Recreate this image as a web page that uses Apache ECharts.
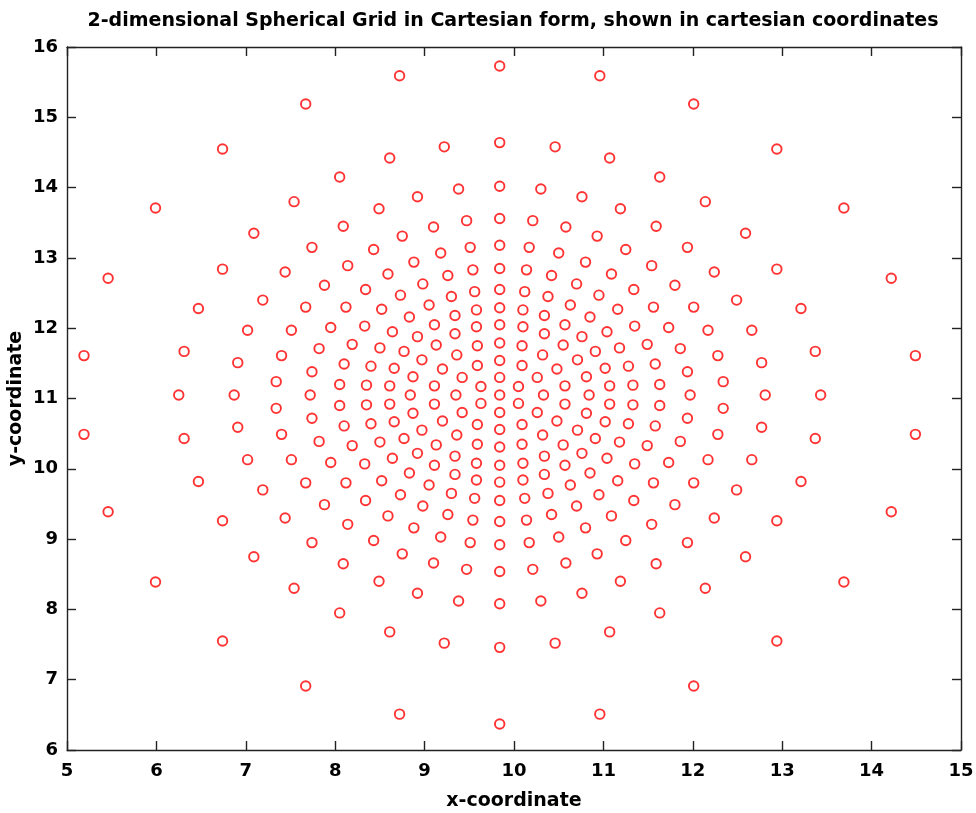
<!DOCTYPE html>
<html>
<head>
<meta charset="utf-8">
<title>2-dimensional Spherical Grid</title>
<script src="https://cdn.jsdelivr.net/npm/echarts@6.0.0/dist/echarts.min.js"></script>
<style>
  html, body { margin: 0; padding: 0; background: #ffffff; }
  #chart { width: 976px; height: 813px; }
</style>
</head>
<body>
<div id="chart"></div>
<script>
// Axis ranges and tick spacing
const xRange = [5, 15];
const yRange = [6, 16];
const tickStep = 1;

// Grid points, one array per ring (x, y), from the pole outward
const center = [[9.84, 11.05]];
const ring1 = [[9.84,11.30],[10.05,11.17],[10.05,10.93],[9.84,10.80],[9.63,10.93],[9.63,11.17]];
const ring2 = [[9.84,11.54],[10.09,11.47],[10.26,11.30],[10.33,11.05],[10.26,10.80],[10.09,10.63],[9.84,10.56],[9.59,10.63],[9.42,10.80],[9.35,11.05],[9.42,11.30],[9.59,11.47]];
const ring3 = [[9.84,11.79],[10.09,11.75],[10.32,11.62],[10.48,11.42],[10.57,11.18],[10.57,10.92],[10.48,10.68],[10.32,10.48],[10.09,10.35],[9.84,10.31],[9.59,10.35],[9.36,10.48],[9.20,10.68],[9.11,10.92],[9.11,11.18],[9.20,11.42],[9.36,11.62],[9.59,11.75]];
const ring4 = [[9.84,12.05],[10.10,12.02],[10.34,11.92],[10.55,11.76],[10.71,11.55],[10.81,11.31],[10.84,11.05],[10.81,10.79],[10.71,10.55],[10.55,10.34],[10.34,10.18],[10.10,10.08],[9.84,10.05],[9.58,10.08],[9.34,10.18],[9.13,10.34],[8.97,10.55],[8.87,10.79],[8.84,11.05],[8.87,11.31],[8.97,11.55],[9.13,11.76],[9.34,11.92],[9.58,12.02]];
const ring5 = [[9.84,12.29],[10.10,12.26],[10.34,12.18],[10.57,12.05],[10.76,11.88],[10.91,11.67],[11.02,11.43],[11.07,11.18],[11.07,10.92],[11.02,10.67],[10.91,10.43],[10.76,10.22],[10.57,10.05],[10.34,9.92],[10.10,9.84],[9.84,9.81],[9.58,9.84],[9.34,9.92],[9.11,10.05],[8.92,10.22],[8.77,10.43],[8.66,10.67],[8.61,10.92],[8.61,11.18],[8.66,11.43],[8.77,11.67],[8.92,11.88],[9.11,12.05],[9.34,12.18],[9.58,12.26]];
const ring6 = [[9.84,12.55],[10.12,12.52],[10.38,12.45],[10.63,12.33],[10.85,12.16],[11.04,11.95],[11.18,11.72],[11.28,11.46],[11.33,11.19],[11.33,10.91],[11.28,10.64],[11.18,10.38],[11.04,10.15],[10.85,9.94],[10.63,9.77],[10.38,9.65],[10.12,9.58],[9.84,9.55],[9.56,9.58],[9.30,9.65],[9.05,9.77],[8.83,9.94],[8.64,10.15],[8.50,10.38],[8.40,10.64],[8.35,10.91],[8.35,11.19],[8.40,11.46],[8.50,11.72],[8.64,11.95],[8.83,12.16],[9.05,12.33],[9.30,12.45],[9.56,12.52]];
const ring7 = [[9.84,12.85],[10.14,12.83],[10.42,12.75],[10.70,12.63],[10.95,12.47],[11.16,12.27],[11.35,12.03],[11.49,11.77],[11.58,11.49],[11.63,11.20],[11.63,10.90],[11.58,10.61],[11.49,10.33],[11.35,10.07],[11.16,9.83],[10.95,9.63],[10.70,9.47],[10.42,9.35],[10.14,9.27],[9.84,9.25],[9.54,9.27],[9.26,9.35],[8.98,9.47],[8.73,9.63],[8.52,9.83],[8.33,10.07],[8.19,10.33],[8.10,10.61],[8.05,10.90],[8.05,11.20],[8.10,11.49],[8.19,11.77],[8.33,12.03],[8.52,12.27],[8.73,12.47],[8.98,12.63],[9.26,12.75],[9.54,12.83]];
const ring8 = [[9.84,13.18],[10.17,13.15],[10.50,13.07],[10.80,12.94],[11.09,12.77],[11.34,12.55],[11.56,12.30],[11.73,12.01],[11.86,11.71],[11.94,11.38],[11.97,11.05],[11.94,10.72],[11.86,10.39],[11.73,10.09],[11.56,9.80],[11.34,9.55],[11.09,9.33],[10.80,9.16],[10.50,9.03],[10.17,8.95],[9.84,8.92],[9.51,8.95],[9.18,9.03],[8.88,9.16],[8.59,9.33],[8.34,9.55],[8.12,9.80],[7.95,10.09],[7.82,10.39],[7.74,10.72],[7.72,11.05],[7.74,11.38],[7.82,11.71],[7.95,12.01],[8.12,12.30],[8.34,12.55],[8.59,12.77],[8.88,12.94],[9.18,13.07],[9.51,13.15]];
const ring9 = [[9.84,13.56],[10.21,13.53],[10.58,13.44],[10.93,13.31],[11.25,13.12],[11.54,12.89],[11.80,12.61],[12.01,12.30],[12.17,11.97],[12.28,11.61],[12.34,11.24],[12.34,10.86],[12.28,10.49],[12.17,10.13],[12.01,9.80],[11.80,9.49],[11.54,9.21],[11.25,8.98],[10.93,8.79],[10.58,8.66],[10.21,8.57],[9.84,8.54],[9.47,8.57],[9.10,8.66],[8.75,8.79],[8.43,8.98],[8.14,9.21],[7.88,9.49],[7.67,9.80],[7.51,10.13],[7.40,10.49],[7.34,10.86],[7.34,11.24],[7.40,11.61],[7.51,11.97],[7.67,12.30],[7.88,12.61],[8.14,12.89],[8.43,13.12],[8.75,13.31],[9.10,13.44],[9.47,13.53]];
const ring10 = [[9.84,14.02],[10.30,13.98],[10.76,13.87],[11.19,13.70],[11.59,13.45],[11.94,13.15],[12.24,12.80],[12.49,12.40],[12.66,11.97],[12.77,11.51],[12.81,11.05],[12.77,10.59],[12.66,10.13],[12.49,9.70],[12.24,9.30],[11.94,8.95],[11.59,8.65],[11.19,8.40],[10.76,8.23],[10.30,8.12],[9.84,8.08],[9.38,8.12],[8.92,8.23],[8.49,8.40],[8.09,8.65],[7.74,8.95],[7.44,9.30],[7.19,9.70],[7.02,10.13],[6.91,10.59],[6.87,11.05],[6.91,11.51],[7.02,11.97],[7.19,12.40],[7.44,12.80],[7.74,13.15],[8.09,13.45],[8.49,13.70],[8.92,13.87],[9.38,13.98]];
const ring11 = [[9.84,14.64],[10.46,14.58],[11.07,14.42],[11.63,14.15],[12.14,13.80],[12.59,13.35],[12.94,12.84],[13.21,12.28],[13.37,11.67],[13.43,11.05],[13.37,10.43],[13.21,9.82],[12.94,9.26],[12.59,8.75],[12.14,8.30],[11.63,7.95],[11.07,7.68],[10.46,7.52],[9.84,7.46],[9.22,7.52],[8.61,7.68],[8.05,7.95],[7.54,8.30],[7.09,8.75],[6.74,9.26],[6.47,9.82],[6.31,10.43],[6.25,11.05],[6.31,11.67],[6.47,12.28],[6.74,12.84],[7.09,13.35],[7.54,13.80],[8.05,14.15],[8.61,14.42],[9.22,14.58]];
const ring12 = [[9.84,15.73],[10.96,15.59],[12.01,15.19],[12.94,14.55],[13.69,13.71],[14.22,12.71],[14.49,11.61],[14.49,10.49],[14.22,9.39],[13.69,8.39],[12.94,7.55],[12.01,6.91],[10.96,6.51],[9.84,6.37],[8.72,6.51],[7.67,6.91],[6.74,7.55],[5.99,8.39],[5.46,9.39],[5.19,10.49],[5.19,11.61],[5.46,12.71],[5.99,13.71],[6.74,14.55],[7.67,15.19],[8.72,15.59]];

const rings = [center, ring1, ring2, ring3, ring4, ring5, ring6, ring7, ring8, ring9, ring10, ring11, ring12];
const gridPoints = [].concat(...rings);

const FONT = 'DejaVu Sans';
const INK = '#000000';
const FRAME = '#222222';

function frameAxis(pos, range, showLabels, extra) {
  return Object.assign({
    type: 'value',
    position: pos,
    min: range[0],
    max: range[1],
    interval: tickStep,
    axisLine: { show: true, onZero: false, lineStyle: { color: FRAME, width: 1.4 } },
    axisTick: { show: true, inside: true, length: 9, lineStyle: { color: FRAME, width: 1.4 } },
    axisLabel: {
      show: showLabels,
      margin: pos === 'bottom' ? 12 : 9,
      color: INK,
      fontFamily: FONT,
      fontWeight: 'bold',
      fontSize: 18
    },
    splitLine: { show: false },
    minorTick: { show: false }
  }, extra || {});
}

const chart = echarts.init(document.getElementById('chart'), null, { renderer: 'canvas' });

chart.setOption({
  animation: false,
  backgroundColor: '#ffffff',
  grid: {
    left: 67, right: 15, top: 47, bottom: 63,
    containLabel: false,
    outerBoundsMode: 'none'
  },
  graphic: [{
    type: 'text',
    x: 513,
    y: 21,
    style: {
      text: '2-dimensional Spherical Grid in Cartesian form, shown in cartesian coordinates',
      fill: INK,
      font: 'bold 19px "DejaVu Sans"',
      align: 'center',
      verticalAlign: 'middle'
    }
  }],
  xAxis: [
    frameAxis('bottom', xRange, true, {
      name: 'x-coordinate',
      nameLocation: 'middle',
      nameGap: 42,
      nameMoveOverlap: false,
      nameTextStyle: { color: INK, fontFamily: FONT, fontWeight: 'bold', fontSize: 19 }
    }),
    frameAxis('top', xRange, false)
  ],
  yAxis: [
    frameAxis('left', yRange, true, {
      name: 'y-coordinate',
      nameLocation: 'middle',
      nameGap: 41,
      nameRotate: 90,
      nameMoveOverlap: false,
      nameTextStyle: { color: INK, fontFamily: FONT, fontWeight: 'bold', fontSize: 19 }
    }),
    frameAxis('right', yRange, false)
  ],
  series: [{
    type: 'scatter',
    xAxisIndex: 0,
    yAxisIndex: 0,
    data: gridPoints,
    symbol: 'circle',
    symbolSize: 9.5,
    clip: false,
    itemStyle: {
      color: 'rgba(255,255,255,0)',
      borderColor: '#ff0000',
      borderWidth: 1.9
    },
    emphasis: { disabled: true }
  }]
});
</script>
</body>
</html>
